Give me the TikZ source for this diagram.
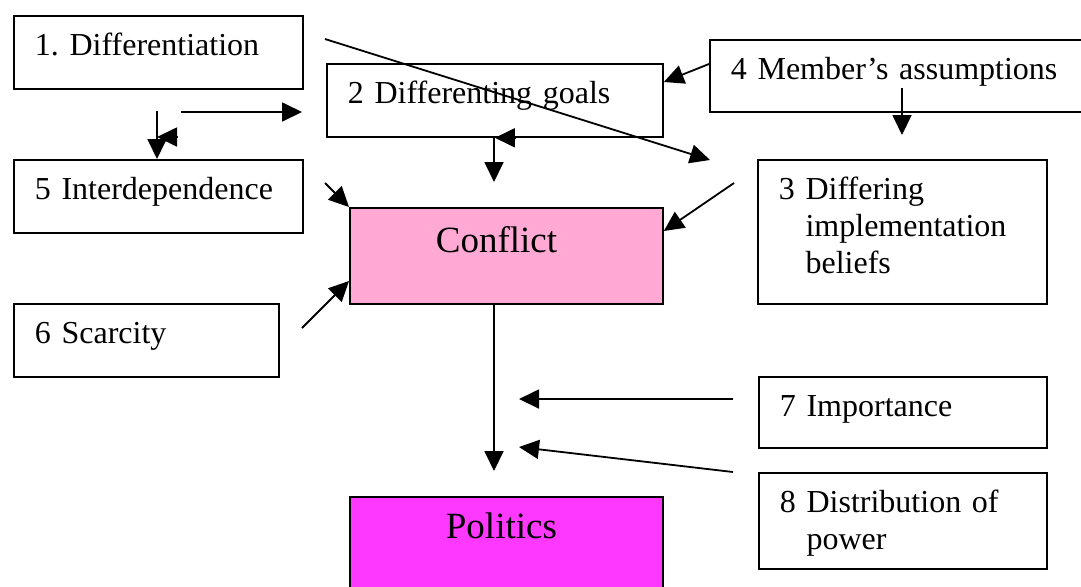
\documentclass[tikz,border=0pt]{standalone}
\usepackage{fontspec}
\setmainfont{Liberation Serif}
\usetikzlibrary{arrows.meta, calc}
\definecolor{conflictpink}{HTML}{FFA9D4}
\definecolor{politicsmagenta}{HTML}{FF38FF}
\frenchspacing

\begin{document}
\begin{tikzpicture}[
    x=0.5pt, y=-0.5pt,
    >={Triangle[length=10pt, width=9.5pt]},
    % box styles
    factorbox/.style={
        rectangle,
        draw=black,
        fill=white,
        line width=0.9pt,
        anchor=north west,
        align=left,
        inner xsep=10.5pt,
        inner ysep=0pt,
        text height=20pt,
        font=\fontsize{16}{18.5}\selectfont
    },
    outcomebox/.style={
        factorbox,
        font=\fontsize{18.5}{22}\selectfont
    },
    link/.style={
        ->,
        line width=0.9pt
    }
]
    \useasboundingbox (0,0) rectangle (1081,586);

    % ==========================================
    % 1. FACTORS (left and right columns)
    % ==========================================
    \node[factorbox, text width=123.5pt, text depth=16.5pt] (diff) at (13,15) {1. Differentiation};
    \node[factorbox, text width=147pt, text depth=16.5pt] (goals) at (326,63) {2 Differenting goals};
    \node[factorbox, text width=169.5pt, text depth=16pt] (assume) at (709,39) {4 Member’s assumptions};
    \node[factorbox, text width=123.5pt, text depth=52pt] (beliefs) at (757,159)
        {3 Differing\\\phantom{3 }implementation\\\phantom{3 }beliefs};
    \node[factorbox, text width=123.5pt, text depth=16.5pt] (interdep) at (13,159) {5 Interdependence};
    \node[factorbox, text width=111.5pt, text depth=16.5pt] (scarcity) at (13,303) {6 Scarcity};
    \node[factorbox, text width=123pt, text depth=15.5pt] (importance) at (758,376) {7 Importance};
    \node[factorbox, text width=123pt, text depth=28pt] (power) at (758,472)
        {8 Distribution of\\\phantom{8 }power};

    % ==========================================
    % 2. CONFLICT AND POLITICS (centre)
    % ==========================================
    \node[outcomebox, fill=conflictpink, inner xsep=43pt, text width=70.5pt,
          text height=22.5pt, text depth=25.5pt] (conflict) at (349,207) {Conflict};
    \node[outcomebox, fill=politicsmagenta, inner xsep=48pt, text width=60.5pt,
          text height=21pt, text depth=35pt] (politics) at (349,496) {Politics};

    % free ends of the connectors
    \coordinate (diffA) at (325,39);
    \coordinate (diffB) at (710,160);
    \coordinate (diffC) at (157,111);
    \coordinate (diffD) at (181,112);
    \coordinate (diffE) at (302,112);
    \coordinate (stubA) at (178,137);
    \coordinate (stubB) at (157,137);
    \coordinate (assumeA) at (902,88);
    \coordinate (assumeB) at (902,135);
    \coordinate (beliefsA) at (734,183);
    \coordinate (interdepA) at (325,183);
    \coordinate (scarcityA) at (302,328);
    \coordinate (goalsA) at (494,182);
    \coordinate (politicsA) at (494,471);
    \coordinate (importanceA) at (733,399);
    \coordinate (importanceB) at (519,399);
    \coordinate (powerA) at (733,472);
    \coordinate (powerB) at (519,447);

    % ==========================================
    % CONNECTORS
    % ==========================================
    \draw[link] (diffA) -- (diffB);
    \draw[link] (diffC) -- (diffC |- interdep.north);
    \draw[link] (diffD) -- (diffE);
    \draw[link] (stubA) -- (stubB);

    \draw[link] ($(assume.north west)+(0,25)$) -- ($(goals.north east)+(0,19)$);
    \draw[link] (assumeA) -- (assumeB);

    \draw[link] ($(goals.south)+(21,0)$) -- (goals.south);
    \draw[link] (goalsA |- goals.south) -- (goalsA);

    \draw[link] (beliefsA) -- ($(conflict.north east)+(0,24)$);
    \draw[link] (interdepA) -- (conflict.north west);
    \draw[link] (scarcityA) -- ($(conflict.north west)+(0,74)$);

    \draw[link] (politicsA |- conflict.south) -- (politicsA);
    \draw[link] (importanceA) -- (importanceB);
    \draw[link] (powerA) -- (powerB);

\end{tikzpicture}
\end{document}
